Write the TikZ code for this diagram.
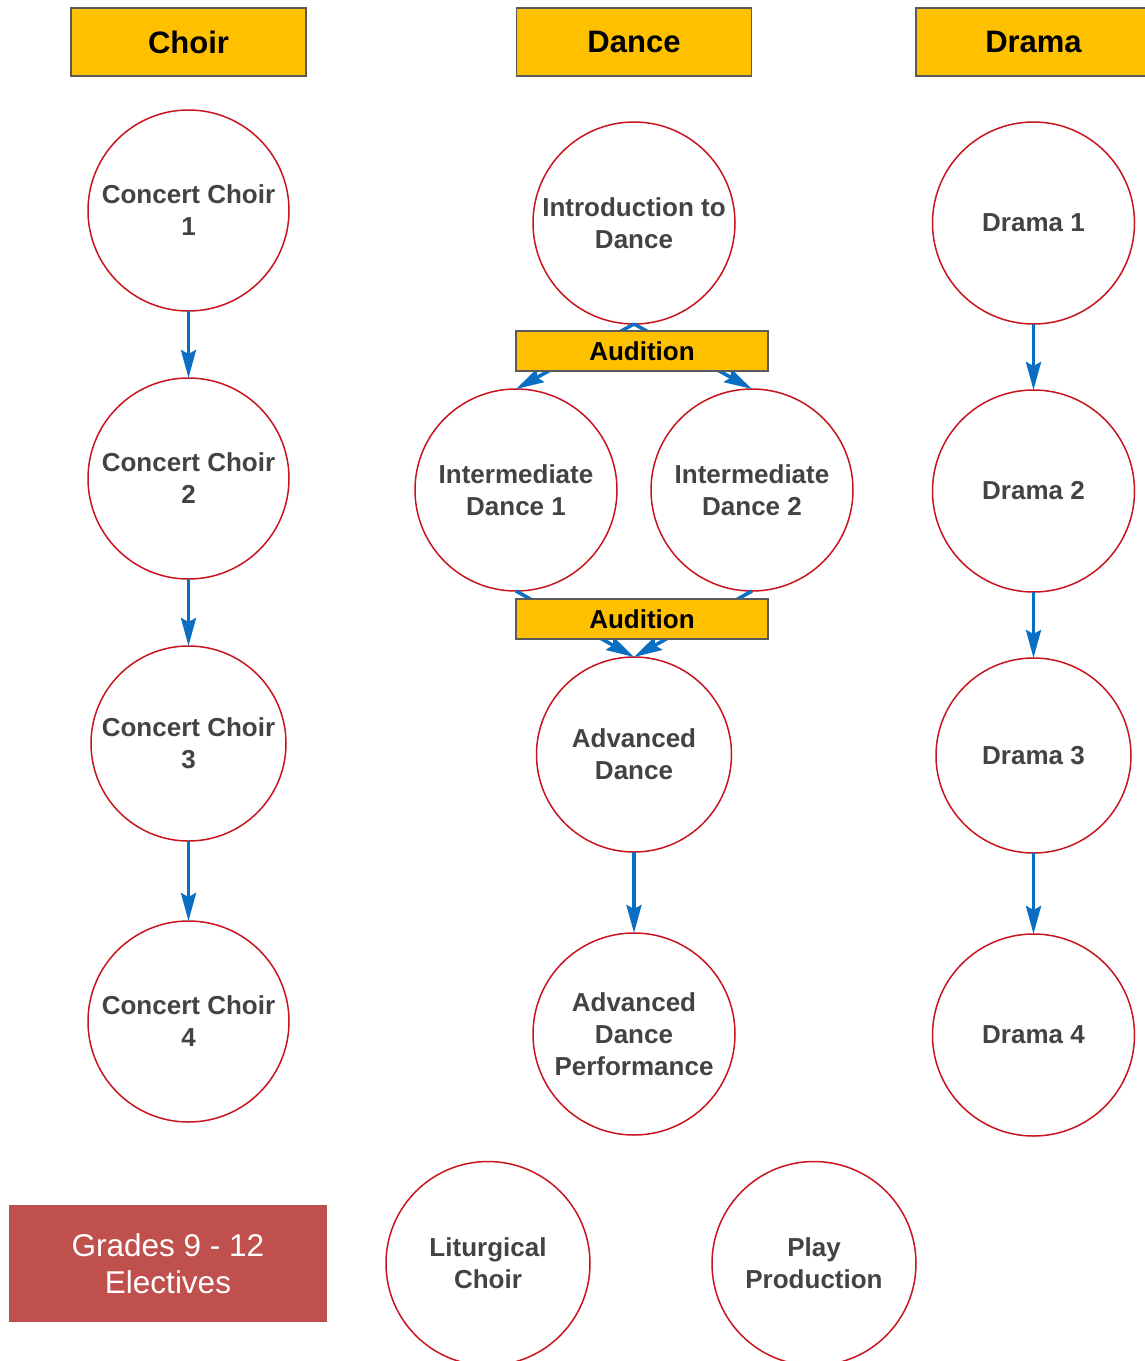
\documentclass[tikz,border=0pt]{standalone}
\usepackage{fontspec}
\setmainfont{Liberation Sans}
\usetikzlibrary{positioning,arrows.meta}
\definecolor{headyellow}{HTML}{FFC000}
\definecolor{headgray}{HTML}{5A5A5A}
\definecolor{coursered}{HTML}{C8141E}
\definecolor{coursegray}{HTML}{434343}
\definecolor{linkblue}{HTML}{0A6FC2}
\definecolor{gradesred}{HTML}{C0504D}

\begin{document}
\begin{tikzpicture}[x=1pt,y=1pt,
    course/.style={circle,draw=coursered,line width=1.5pt,inner sep=0pt,outer sep=0pt,minimum size=#1,
      align=center,text=coursegray,font=\fontsize{26}{32}\selectfont\bfseries},
    course/.default=201pt,
    header/.style={draw=headgray,line width=1.2pt,fill=headyellow,minimum width=235pt,
      minimum height=68pt,inner sep=0pt,outer sep=0pt,font=\fontsize{31}{37}\selectfont\bfseries},
    audition/.style={draw=headgray,line width=1.2pt,fill=headyellow,minimum width=252pt,
      minimum height=40pt,inner sep=0pt,outer sep=0pt,font=\fontsize{26}{31}\selectfont\bfseries},
    link/.style={draw=linkblue,line width=3.5pt,-{Stealth[length=28pt,width=15pt,inset=4pt]}}]
  \useasboundingbox (0,0) rectangle (1145,-1361);

  \node[header] (choir) at (188.5,-42) {Choir};
  \node[header] (dance) at (634,-42) {Dance};
  \node[header] (drama) at (1033.5,-42) {Drama};

  \node[course] [below=34pt of choir] (cc1) {Concert Choir\\1};
  \node[course] [below=67pt of cc1] (cc2) {Concert Choir\\2};
  \node[course=195pt] [below=67pt of cc2] (cc3) {Concert Choir\\3};
  \node[course] [below=80pt of cc3] (cc4) {Concert Choir\\4};

  \node[course=202pt] [below=46pt of dance] (intro) {Introduction to\\Dance};
  \node[course=202pt] [below=65pt of intro, xshift=-118pt] (inter1) {Intermediate\\Dance 1};
  \node[course=202pt] [below=65pt of intro, xshift=118pt] (inter2) {Intermediate\\Dance 2};
  \node[course=195pt] [below=66pt of inter1, xshift=118pt] (adv) {Advanced\\Dance};
  \node[course=202pt] [below=81pt of adv] (advperf) {Advanced\\Dance\\Performance};

  \node[course=202pt] [below=46pt of drama] (dr1) {Drama 1};
  \node[course=202pt] [below=66pt of dr1] (dr2) {Drama 2};
  \node[course=195pt] [below=66pt of dr2] (dr3) {Drama 3};
  \node[course=202pt] [below=81pt of dr3] (dr4) {Drama 4};

  \node[fill=gradesred,minimum width=318pt,minimum height=117pt,inner sep=0pt,outer sep=0pt,align=center,
    text=white,font=\fontsize{31.5}{37}\selectfont] (grades) at (168,-1263.5) {Grades 9 - 12\\Electives};
  \node[course=204pt] [right=59pt of grades] (liturgical) {Liturgical\\Choir};
  \node[course=204pt] [right=122pt of liturgical] (play) {Play\\Production};

  \draw[link] (cc1) -- (cc2);
  \draw[link] (cc2) -- (cc3);
  \draw[link] (cc3) -- (cc4);
  \draw[link] (intro.south) -- (inter1.north);
  \draw[link] (intro.south) -- (inter2.north);
  \draw[link] (inter1.south) -- (adv.north);
  \draw[link] (inter2.south) -- (adv.north);
  \draw[link] (adv) -- (advperf);
  \draw[link] (dr1) -- (dr2);
  \draw[link] (dr2) -- (dr3);
  \draw[link] (dr3) -- (dr4);

  \node[audition] [below=7pt of intro, xshift=8pt] (audition1) {Audition};
  \node[audition] [above=18pt of adv, xshift=8pt] (audition2) {Audition};
\end{tikzpicture}
\end{document}
